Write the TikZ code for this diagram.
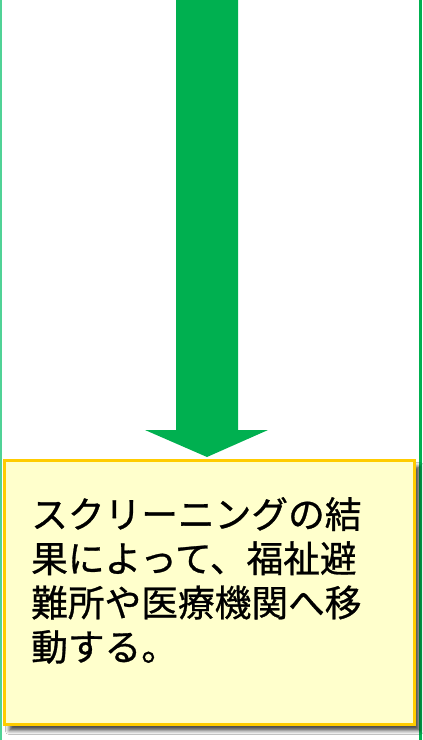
\documentclass[tikz,border=0pt]{standalone}
\usepackage{fontspec}
\newfontfamily\jpfont[FakeBold=0.8]{Noto Sans CJK JP}
\usetikzlibrary{shadows.blur}
\definecolor{arrowgreen}{HTML}{00B050}
\definecolor{lightgreen}{RGB}{80,210,150}
\definecolor{boxborder}{HTML}{FFCC00}
\definecolor{boxfill}{HTML}{FFFFCC}
\tikzset{
  bigarrow/.style={fill=arrowgreen, draw=none},
  notebox/.style={draw=boxborder, line width=2.6pt, fill=boxfill,
    blur shadow={shadow xshift=5pt, shadow yshift=-6pt, shadow blur radius=4pt, shadow opacity=70}},
  linetext/.style={anchor=base west, inner sep=0pt, font=\jpfont\fontsize{36.7}{44.3}\selectfont, text=black}
}
\begin{document}
\begin{tikzpicture}[x=1pt, y=-1pt]
  \useasboundingbox (0,0) rectangle (423,740);
  \fill[white] (0,0) rectangle (423,740);
  % side lines
  \draw[lightgreen, line width=1.5pt] (0.75,0) -- (0.75,740);
  \draw[arrowgreen, line width=3pt] (420.5,0) -- (420.5,740);
  % arrow
  \fill[bigarrow] (176,0) -- (238,0) -- (238,430) -- (268,430) -- (207,457) -- (145,430) -- (176,430) -- cycle;
  % box
  \node[notebox, minimum width=410.3pt, minimum height=264.3pt, anchor=north west, inner sep=0pt] (box) at (3,459) {};
  % text
  \node[linetext] (l1) at (31,528) {スクリーニングの結};
  \node[linetext] (l2) at (31,572.2) {果によって、福祉避};
  \node[linetext] (l3) at (31,616.4) {難所や医療機関へ移};
  \node[linetext] (l4) at (31,660.6) {動する。};
\end{tikzpicture}
\end{document}
